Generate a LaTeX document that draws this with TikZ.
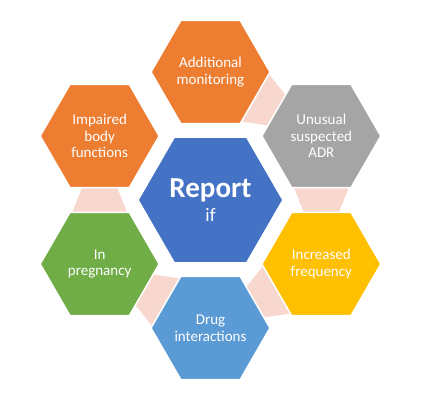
\documentclass[tikz,border=0pt]{standalone}
\usepackage{fontspec}
\setmainfont{Carlito}
\usepackage{tikz}
\usetikzlibrary{shapes.geometric,calc,backgrounds}
\definecolor{hexorange}{RGB}{237,125,49}
\definecolor{hexgray}{RGB}{165,165,165}
\definecolor{hexgold}{RGB}{255,192,0}
\definecolor{hexsky}{RGB}{91,155,213}
\definecolor{hexgreen}{RGB}{112,173,71}
\definecolor{hexblue}{RGB}{68,114,196}
\definecolor{linkpink}{RGB}{248,216,206}

\newcommand\hexlink[3]{%
  \fill[linkpink,shift={($(#1)!0.5!(#2)$)},rotate=#3]
    (-14,-28) -- (14,-17) -- (14,17) -- (-14,28) -- cycle;}

\begin{document}
\begin{tikzpicture}[x=1pt,y=1pt,
    hexbox/.style={regular polygon,regular polygon sides=6,
      inner sep=0pt,minimum size=119pt,draw=white,line width=1.5pt,
      text=white,align=center,font=\fontsize{15}{16.5}\selectfont},
    hubbox/.style={hexbox,minimum size=145pt,
      font=\fontsize{19}{24}\selectfont}]
  \useasboundingbox (-210.5,-203) rectangle (229.5,200);

  \node[hubbox,fill=hexblue] (report)
    {{\fontsize{29}{30}\selectfont\bfseries Report}\\if};

  \node[hexbox,fill=hexorange] (addmon) at ($(report)+(90:128)$)
    {Additional\\monitoring};
  \node[hexbox,fill=hexgray] (unusual) at ($(report)+(30:128)$)
    {Unusual\\suspected\\ADR};
  \node[hexbox,fill=hexgold] (freq) at ($(report)+(-30:128)$)
    {Increased\\frequency};
  \node[hexbox,fill=hexsky] (drugs) at ($(report)+(-90:128)$)
    {Drug\\interactions};
  \node[hexbox,fill=hexgreen] (pregnancy) at ($(report)+(-150:128)$)
    {In\\pregnancy};
  \node[hexbox,fill=hexorange] (impaired) at ($(report)+(150:128)$)
    {Impaired\\body\\functions};

  \begin{scope}[on background layer]
    \hexlink{addmon}{unusual}{-30}
    \hexlink{unusual}{freq}{-90}
    \hexlink{freq}{drugs}{-150}
    \hexlink{drugs}{pregnancy}{150}
    \hexlink{pregnancy}{impaired}{90}
  \end{scope}
\end{tikzpicture}
\end{document}
